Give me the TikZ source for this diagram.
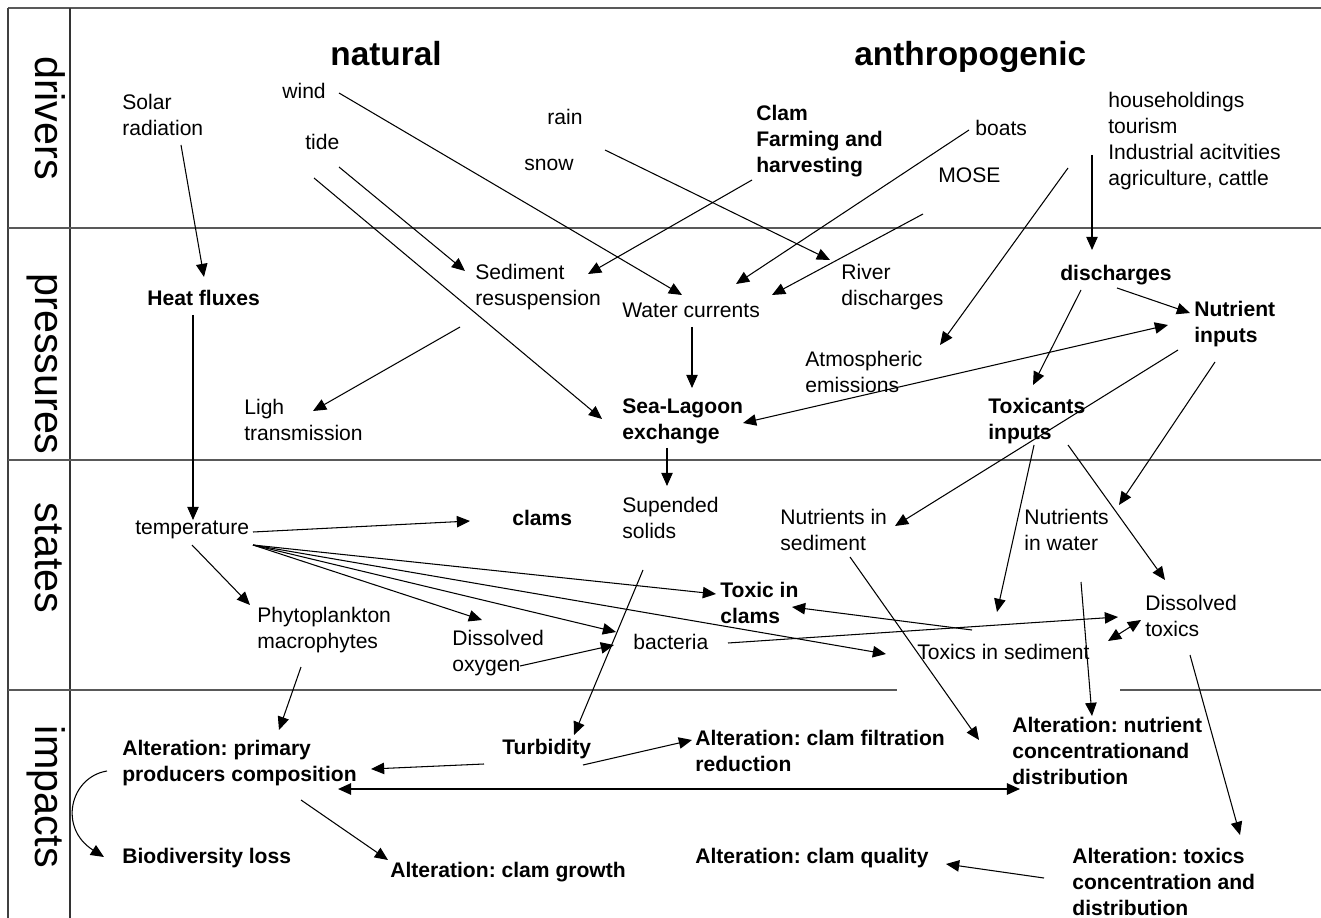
\documentclass[tikz,border=0pt]{standalone}
\usepackage{fontspec}
\setmainfont{Liberation Sans}
\usetikzlibrary{arrows.meta,calc}
\frenchspacing
\begin{document}
\begin{tikzpicture}[x=0.02cm,y=-0.02cm,
  txt/.style={font=\fontsize{12}{14.8}\selectfont, align=left, inner sep=0pt, anchor=west},
  btxt/.style={txt, font=\fontsize{12}{14.8}\selectfont\bfseries},
  sidelab/.style={font=\fontsize{23.5}{26}\selectfont, rotate=-90, anchor=base, inner sep=0pt},
  hdr/.style={font=\fontsize{19}{22}\selectfont\bfseries, anchor=base west, inner sep=0pt},
  arw/.style={-{Triangle[length=7.5pt,width=6.5pt]}, line width=0.6pt},
  darw/.style={{Triangle[length=7.5pt,width=6.5pt]}-{Triangle[length=7.5pt,width=6.5pt]}, line width=0.6pt},
  sepline/.style={line width=1.6pt, draw=black!65},
]
\fill[white] (0,0) rectangle (1321,918);
\useasboundingbox (0,0) rectangle (1321,918);

% frame
\draw[sepline] (8,8) -- (1321,8);
\draw[line width=1.2pt, black!75] (8,8) -- (8,918);
\draw[line width=1pt, black!80] (70,8) -- (70,918);
\draw[sepline] (8,228) -- (1321,228);
\draw[sepline] (8,460) -- (1321,460);
\draw[sepline] (8,690) -- (897,690);
\draw[sepline] (1120,690) -- (1321,690);

% side labels and headers
\node[sidelab] (ldr) at (35,118) {drivers};
\node[sidelab] (lpr) at (35,364) {pressures};
\node[sidelab] (lst) at (35,558) {states};
\node[sidelab] (lim) at (35,797) {impacts};
\node[hdr] (nat) at (330,66) {natural};
\node[hdr] (anth) at (854,66) {anthropogenic};

% drivers
\node[txt] (solar) at (122,115) {Solar\\radiation};
\node[txt] (wind) at (282,91) {wind};
\node[txt] (tide) at (305,142) {tide};
\node[txt] (rain) at (547,117) {rain};
\node[txt] (snow) at (524,165) {snow};
\node[btxt] (clam) at (756,141) {Clam\\Farming and\\harvesting};
\node[txt] (boats) at (975,128) {boats};
\node[txt] (mose) at (938,175) {MOSE};
\node[txt] (house) at (1108,141) {householdings\\tourism\\Industrial acitvities\\agriculture, cattle};

% pressures
\node[btxt] (heat) at (147,298) {Heat fluxes};
\node[txt] (sed) at (475,287) {Sediment\\resuspension};
\node[txt] (wc) at (622,310) {Water currents};
\node[txt] (river) at (841,287) {River\\discharges};
\node[btxt] (disch) at (1060,275) {discharges};
\node[btxt] (nutin) at (1194,324) {Nutrient\\inputs};
\node[txt] (atm) at (805,372) {Atmospheric\\emissions};
\node[txt] (ligh) at (244,420) {Ligh\\transmission};
\node[btxt] (sl) at (622,421) {Sea-Lagoon\\exchange};
\node[btxt] (tox) at (988,421) {Toxicants\\inputs};

% states
\node[txt] (temp) at (135,530) {temperature};
\node[btxt] (clams) at (512,518) {clams};
\node[txt] (ss) at (622,518) {Supended\\solids};
\node[txt] (nis) at (780,530) {Nutrients in\\sediment};
\node[txt] (niw) at (1024,530) {Nutrients\\in water};
\node[btxt] (tic) at (720,603) {Toxic in\\clams};
\node[txt] (phyto) at (257,630) {Phytoplankton\\macrophytes};
\node[txt] (dox) at (452,653) {Dissolved\\oxygen};
\node[txt] (bact) at (633,642) {bacteria};
\node[txt] (tis) at (917,652) {Toxics in sediment};
\node[txt] (dtox) at (1145,616) {Dissolved\\toxics};

% impacts
\node[btxt] (altp) at (122,763) {Alteration: primary\\producers composition};
\node[btxt] (turb) at (502,749) {Turbidity};
\node[btxt] (altf) at (695,751) {Alteration: clam filtration\\reduction};
\node[btxt] (altn) at (1012,751) {Alteration: nutrient\\concentrationand\\distribution};
\node[btxt] (bio) at (122,858) {Biodiversity loss};
\node[btxt] (altg) at (390,872) {Alteration: clam growth};
\node[btxt] (altq) at (695,858) {Alteration: clam quality};
\node[btxt] (altt) at (1072,882) {Alteration: toxics\\concentration and\\distribution};

% connectors: drivers -> pressures
\draw[arw] ($(solar.west)+(59,30)$) -- ($(heat.west)+(57,-21)$);
\draw[arw] ($(wind.west)+(57,2)$) -- ($(wc.west)+(60,-15)$);
\draw[arw] ($(tide.west)+(34,25)$) -- ($(sed.west)+(-10,-16)$);
\draw[arw] ($(tide.west)+(9,36)$) -- ($(sl.west)+(-20,-2)$);
\draw[arw] ($(rain.west)+(58,33)$) -- ($(river.west)+(-11,-27)$);
\draw[arw] ($(clam.west)+(-4,39)$) -- ($(sed.west)+(113,-13)$);
\draw[arw] ($(boats.west)+(-6,2)$) -- ($(wc.west)+(114,-26)$);
\draw[arw] ($(mose.west)+(-15,39)$) -- ($(wc.west)+(150,-15)$);
\draw[arw] ($(house.west)+(-40,27)$) -- ($(atm.west)+(135,-27)$);
\draw[arw] ($(house.west)+(-16,14)$) -- ($(disch.west)+(32,-25)$);

% pressures
\draw[arw] ($(heat.west)+(46,17)$) -- ($(temp.west)+(58,-10)$);
\draw[arw] ($(sed.west)+(-15,40)$) -- ($(ligh.west)+(69,-9)$);
\draw[arw] ($(wc.west)+(70,17)$) -- ($(sl.west)+(70,-33)$);
\draw[arw] ($(disch.west)+(57,13)$) -- ($(nutin.west)+(-4,-11)$);
\draw[arw] ($(disch.west)+(21,15)$) -- ($(tox.west)+(45,-36)$);
\draw[darw] ($(sl.west)+(121,2)$) -- ($(nutin.west)+(-26,1)$);
\draw[arw] ($(nutin.west)+(-16,26)$) -- ($(nis.west)+(115,-4)$);
\draw[arw] ($(nutin.west)+(21,38)$) -- ($(niw.west)+(95,-25)$);
\draw[arw] ($(tox.west)+(46,24)$) -- ($(tis.west)+(80,-40)$);
\draw[arw] ($(tox.west)+(80,24)$) -- ($(dtox.west)+(20,-36)$);
\draw[arw] ($(sl.west)+(45,27)$) -- ($(ss.west)+(45,-32)$);

% states
\draw[arw] ($(temp.west)+(118,2)$) -- ($(clams.west)+(-42,3)$);
\draw[arw] ($(temp.west)+(57,15)$) -- ($(phyto.west)+(-7,-25)$);
\draw[arw] ($(temp.west)+(118,15)$) -- ($(dox.west)+(30,-33)$);
\draw[arw] ($(temp.west)+(118,15)$) -- ($(bact.west)+(-17,-10)$);
\draw[arw] ($(temp.west)+(118,15)$) -- ($(tic.west)+(-4,-9)$);
\draw[arw] ($(temp.west)+(118,15)$) -- ($(tis.west)+(-31,2)$);
\draw[arw] ($(dox.west)+(68,13)$) -- ($(bact.west)+(-19,3)$);
\draw[arw] ($(ss.west)+(21,52)$) -- ($(turb.west)+(72,-14)$);
\draw[arw] ($(nis.west)+(70,27)$) -- ($(altn.west)+(-33,-11)$);
\draw[arw] ($(niw.west)+(57,52)$) -- ($(altn.west)+(80,-35)$);
\draw[arw] ($(tis.west)+(55,-22)$) -- ($(tic.west)+(72,4)$);
\draw[arw] ($(bact.west)+(95,1)$) -- ($(dtox.west)+(-27,1)$);
\draw[darw] ($(tis.west)+(191,-11)$) -- ($(dtox.west)+(-4,4)$);
\draw[arw] ($(dtox.west)+(45,39)$) -- ($(altt.west)+(168,-47)$);
\draw[arw] ($(phyto.west)+(44,37)$) -- ($(altp.west)+(157,-33)$);

% impacts
\draw[arw] ($(turb.west)+(-18,15)$) -- ($(altp.west)+(249,6)$);
\draw[arw] ($(turb.west)+(81,16)$) -- ($(altf.west)+(-3,-11)$);
\draw[darw, line width=1pt] ($(altp.west)+(216,26)$) -- ($(altn.west)+(8,38)$);
\draw[arw] ($(altp.west)+(-15,8)$) .. controls ($(altp.west)+(-52,14)$) and ($(bio.west)+(-64,-30)$) .. ($(bio.west)+(-18,-1)$);
\draw[arw] ($(altp.west)+(179,37)$) -- ($(altg.west)+(-2,-12)$);
\draw[arw] ($(altt.west)+(-28,-4)$) -- ($(altq.west)+(251,6)$);
\end{tikzpicture}
\end{document}
